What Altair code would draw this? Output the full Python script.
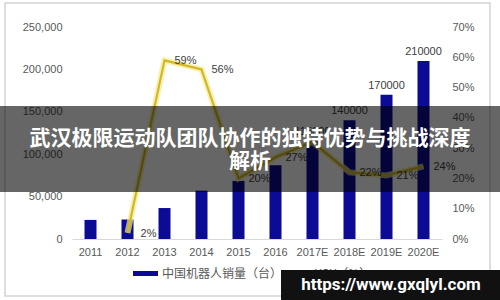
import altair as alt
import pandas as pd

years = ["2011", "2012", "2013", "2014", "2015", "2016", "2017E", "2018E", "2019E", "2020E"]
sales = [22500, 23000, 36500, 57000, 68500, 87000, 115000, 140000, 170000, 210000]
yoy = [None, 0.02, 0.59, 0.56, 0.20, 0.27, 0.32, 0.22, 0.21, 0.24]
yoy_labels = ["", "2%", "59%", "56%", "20%", "27%", "", "22%", "21%", "24%"]
sales_labels = ["", "", "", "", "", "", "115000", "140000", "170000", "210000"]
left_ticks = [0, 50000, 100000, 150000, 200000, 250000]
right_ticks = [0, 0.1, 0.2, 0.3, 0.4, 0.5, 0.6, 0.7]

title_lines = ["武汉极限运动队团队协作的独特优势与挑战深度", "解析"]
legend_bar = "中国机器人销量（台）"
legend_line = "YOY（%）"
watermark = "https://www.gxqlyl.com"

df = pd.DataFrame({"year": years, "sales": sales, "yoy": yoy,
                   "yoy_label": yoy_labels, "sales_label": sales_labels})
dline = df.dropna(subset=["yoy"])
one = pd.DataFrame({"a": [0]})

FONT = "Liberation Sans"
GRAY = "#595959"
BAR = "#0b0b95"

xenc = alt.X("year:N", sort=years, title=None,
             scale=alt.Scale(paddingInner=0, paddingOuter=0),
             axis=alt.Axis(labelAngle=0, ticks=False, domainColor="#d9d9d9",
                           labelColor=GRAY, labelFont=FONT, labelFontSize=11,
                           labelPadding=7))

yl = alt.Y("sales:Q", title=None,
           scale=alt.Scale(domain=[0, 250000], nice=False),
           axis=alt.Axis(values=left_ticks, labelExpr="format(datum.value, ',')",
                         grid=False, domain=False, ticks=False, labelColor=GRAY,
                         labelFont=FONT, labelFontSize=11, labelPadding=10))

bars = alt.Chart(df).mark_bar(size=12, color=BAR).encode(x=xenc, y=yl)
bar_text = alt.Chart(df).mark_text(dy=-9, font=FONT, fontSize=11, color="#404040").encode(
    x=xenc, y=yl, text="sales_label:N")
left = alt.layer(bars, bar_text)

yr = alt.Y("yoy:Q", title=None,
           scale=alt.Scale(domain=[0, 0.7], nice=False),
           axis=alt.Axis(orient="right", values=right_ticks,
                         format=".0%", grid=False, domain=False, ticks=False,
                         labelColor=GRAY, labelFont=FONT, labelFontSize=11,
                         labelPadding=10))

halo = alt.Chart(dline).mark_line(color="#f4eb8c", strokeWidth=6, opacity=0.7).encode(
    x=xenc, y=yr)
core = alt.Chart(dline).mark_line(color="#d2b828", strokeWidth=2.2).encode(
    x=xenc, y=yr)
line_text = alt.Chart(dline).mark_text(dx=21, dy=1, font=FONT, fontSize=11, color="#404040").encode(
    x=xenc, y=yr, text="yoy_label:N")
right = alt.layer(halo, core, line_text)

main = alt.layer(left, right).resolve_scale(y="independent")

frame = alt.Chart(one).mark_rect(fill="transparent", stroke="#d4d4d4", strokeWidth=1.5).encode(
    x=alt.value(-67), x2=alt.value(418), y=alt.value(-24), y2=alt.value(269))

leg_sw1 = alt.Chart(one).mark_rect(color=BAR).encode(
    x=alt.value(61), x2=alt.value(86), y=alt.value(244), y2=alt.value(249))
leg_t1 = alt.Chart(one).mark_text(align="left", baseline="middle", font="Noto Sans CJK SC",
                                  fontSize=12, color=GRAY).encode(
    x=alt.value(90), y=alt.value(247), text=alt.value(legend_bar))
leg_sw2 = alt.Chart(one).mark_rule(color="#6b6420", strokeWidth=3).encode(
    x=alt.value(215), x2=alt.value(238), y=alt.value(246))
leg_t2 = alt.Chart(one).mark_text(align="left", baseline="middle", font="Noto Sans CJK SC",
                                  fontSize=12, color=GRAY).encode(
    x=alt.value(243), y=alt.value(247), text=alt.value(legend_line))

banner = alt.Chart(one).mark_rect(color="#000000", opacity=0.6).encode(
    x=alt.value(-72), x2=alt.value(428), y=alt.value(79), y2=alt.value(165))
t1 = alt.Chart(one).mark_text(align="center", baseline="middle", font="Noto Sans CJK SC",
                              fontWeight="bold", fontSize=21, color="white").encode(
    x=alt.value(178), y=alt.value(112), text=alt.value(title_lines[0]))
t2 = alt.Chart(one).mark_text(align="center", baseline="middle", font="Noto Sans CJK SC",
                              fontWeight="bold", fontSize=21, color="white").encode(
    x=alt.value(178), y=alt.value(135), text=alt.value(title_lines[1]))

wm_box = alt.Chart(one).mark_rect(color="#111111").encode(
    x=alt.value(209), x2=alt.value(428), y=alt.value(243), y2=alt.value(273))
wm_text = alt.Chart(one).mark_text(align="center", baseline="middle", font="Roboto",
                                   fontWeight="bold", fontSize=17, color="white").encode(
    x=alt.value(319), y=alt.value(258), text=alt.value(watermark))

chart = alt.layer(main, frame, leg_sw1, leg_t1, leg_sw2, leg_t2, banner, t1, t2,
                  wm_box, wm_text).resolve_scale(y="independent").properties(
    width=370, height=212,
    autosize=alt.AutoSizeParams(type="none"),
    padding={"left": 72, "top": 27, "right": 58, "bottom": 61},
    background="white",
).configure_view(stroke=None)

chart.save("out.html", embed_options={"renderer": "svg", "actions": False})
